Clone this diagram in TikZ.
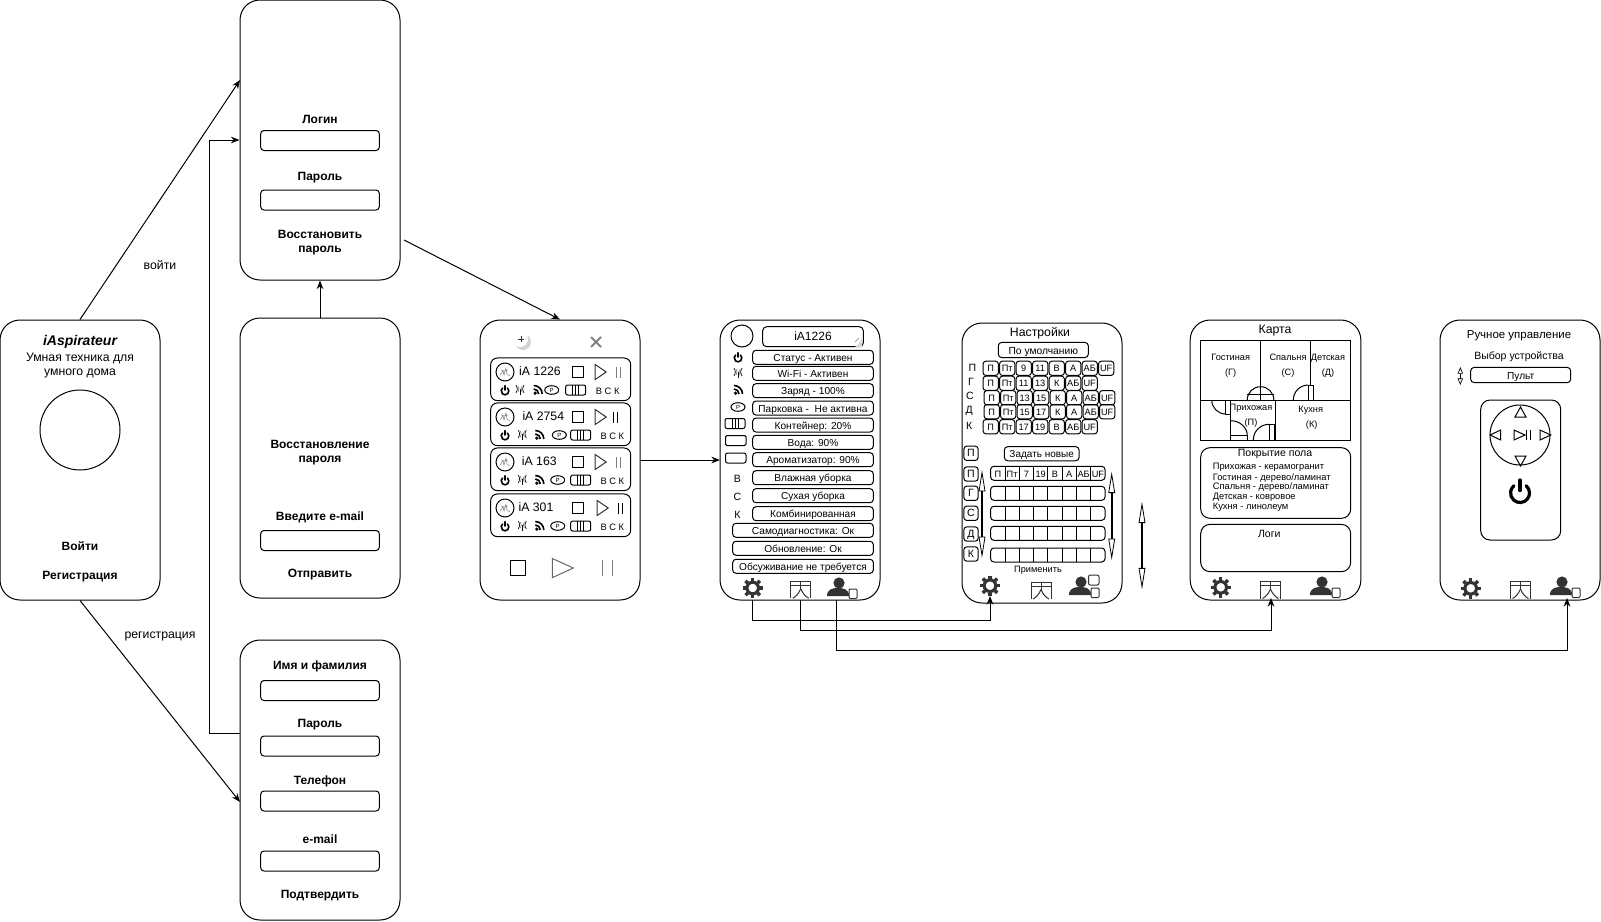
\documentclass[tikz,border=0pt]{standalone}
\usepackage{fontspec}
\setmainfont{Liberation Sans}
\usetikzlibrary{arrows.meta}
\definecolor{icondark}{HTML}{333333}

\tikzset{
    >={Stealth[length=6.5pt,width=5pt]},
    phone/.style={draw, rounded corners=15pt, minimum width=120pt, minimum height=210pt, inner sep=0pt},
    field/.style={draw, rounded corners=2.5pt, minimum width=89pt, minimum height=15pt, inner sep=0pt},
    pill/.style={draw, rounded corners=2.5pt, inner sep=0pt, minimum height=10.5pt, text height=6pt, text depth=0pt, font=\fontsize{7.6}{9}\selectfont},
    cell/.style={draw, rounded corners=2pt, inner sep=0pt, minimum width=11.4pt, minimum height=10.6pt, text height=5pt, text depth=0pt, font=\fontsize{6.9}{8}\selectfont},
    panel/.style={draw, rounded corners=7pt, inner sep=0pt},
    head/.style={font=\bfseries\fontsize{9}{10.5}\selectfont, align=center, inner sep=0pt, yshift=-1pt},
    plain/.style={font=\fontsize{9.2}{10.5}\selectfont, align=center, inner sep=0pt, yshift=-.8pt},
    small/.style={font=\fontsize{7.9}{9}\selectfont, align=center, inner sep=0pt, yshift=-.8pt},
    tiny/.style={font=\fontsize{6.9}{8}\selectfont, align=center, inner sep=0pt, yshift=-.8pt},
    bigarrow/.style={line width=1.2pt, {Triangle[open,length=16pt,width=5pt,line width=.6pt]}-{Triangle[open,length=16pt,width=5pt,line width=.6pt]}},
    pics/poweric/.style={code={
        \draw[line width=#1, line cap=round] (-50:3.8) arc (-50:230:3.8);
        \draw[line width=#1, line cap=round] (0,-5.2) -- (0,-1);
    }},
    pics/poweric/.default=1.2pt,
    pics/wifiic/.style={code={
        \draw[line width=.5pt] (0,-1) -- (0,5);
        \draw[gray, line width=.5pt] (-2,-4) .. controls (-.7,-1) .. (-2,2);
        \draw[gray, line width=.5pt] (2,-4) .. controls (.7,-1) .. (2,2);
        \draw[line width=.5pt] (-4,-5) .. controls (-2.2,-1) .. (-4,3);
        \draw[line width=.5pt] (4,-5) .. controls (2.2,-1) .. (4,3);
    }},
    pics/rssic/.style={code={
        \fill (-2.5,3.2) circle (1.8);
        \draw[line width=1.2pt] (-4,-1) arc (-90:0:5);
        \draw[line width=1.2pt] (-4,-4.5) arc (-90:0:8.5);
    }},
    pics/parkic/.style={code={
        \draw (0,0) ellipse (7 and 4.3);
    }},
    pics/battic/.style={code={
        \draw[rounded corners=1.5pt] (-10,-5) rectangle (10,5);
        \foreach \bx in {-3,0,3} \draw (\bx,-5) -- (\bx,5);
    }},
    pics/gearic/.style={code={
        \draw[icondark, line width=2.3pt] (0,0) circle (5.8);
        \foreach \ga in {0,45,...,315} \draw[icondark, line width=2.6pt] (\ga:7) -- (\ga:10.2);
    }},
    pics/mapic/.style={code={
        \draw[icondark] (-10,8.5) -- (-10,-8.5) -- (10,-8.5) -- (10,8.5);
        \draw[icondark] (-10,-4.5) -- (10,-4.5);
        \draw[icondark] (0,-8.5) -- (0,-1);
        \draw[icondark] (0,-1) .. controls (-2,4) and (-5,7) .. (-8,8.5);
        \draw[icondark] (0,-1) .. controls (2,4) and (5,7) .. (8,8.5);
    }},
    pics/userbody/.style={code={
        \fill[icondark] (1,-7) circle (5.6);
        \fill[icondark] (-11,6) .. controls (-11,-1) and (-5,-2) .. (0,-2) .. controls (5,-2) and (11,-1) .. (11,6) -- cycle;
        \draw[icondark, fill=white, rounded corners=.8pt] (11,-1) rectangle (19,8.5);
    }},
    pics/globeic/.style={code={
        \draw (0,0) circle (9);
        \draw[gray, line width=.4pt] (-5,3) -- (-2,-1) -- (-1,3) -- (1,-4) -- (2,2) -- (5,4);
        \draw[gray, line width=.4pt] (-4,-2) -- (-1,-1) -- (3,-2);
    }},
}

\begin{document}
\begin{tikzpicture}[x=.75pt, y=-.75pt, line width=.75pt]
    \useasboundingbox (0,0) rectangle (1601,921);

    % Phones
    \node[phone] (start) at (80,460) {};
    \node[phone] (login) at (320,140) {};
    \node[phone] (restore) at (320,458) {};
    \node[phone] (regst) at (320,780) {};
    \node[phone] (list) at (560,460) {};
    \node[phone] (dev) at (800,460) {};
    \node[phone] (sets) at (1042,463) {};
    \node[phone, minimum width=128pt] (plan) at (1275.5,460) {};
    \node[phone] (manual) at (1520,460) {};

    % Start screen
    \node[font=\bfseries\itshape\fontsize{10.5}{12}\selectfont, inner sep=0pt] (brand) at (80,342) {iAspirateur};
    \node[plain] (slogan) at (80,364.5) {Умная техника для\\умного дома};
    \node[draw, circle, minimum size=60pt, inner sep=0pt] (logo) at (80,430) {};
    \node[head] (enter) at (80,545) {Войти};
    \node[head] (signup) at (80,575) {Регистрация};

    % Login screen
    \node[head] (loginlab) at (320,118.5) {Логин};
    \node[field] (loginbox) at (320,140.5) {};
    \node[head] (passlab) at (320,176) {Пароль};
    \node[field] (passbox) at (320,200) {};
    \node[head] (forgot) at (320,241) {Восстановить\\пароль};

    % Restore screen
    \node[head] (restlab) at (320,451) {Восстановление\\пароля};
    \node[head] (maillab) at (320,516) {Введите e-mail};
    \node[field] (mailbox) at (320,540.5) {};
    \node[head] (sendlab) at (320,573) {Отправить};

    % Register screen
    \node[head] (namelab) at (320,665) {Имя и фамилия};
    \node[field] (namebox) at (320,690.5) {};
    \node[head] (pwdlab) at (320,723) {Пароль};
    \node[field] (pwdbox) at (320,746) {};
    \node[head] (tellab) at (320,780) {Телефон};
    \node[field] (telbox) at (320,801) {};
    \node[head] (emlab) at (320,838) {e-mail};
    \node[field] (embox) at (320,861) {};
    \node[head] (oklab) at (320,894) {Подтвердить};

    % Connectors
    \coordinate (loginA) at (240,80);
    \coordinate (regstA) at (240,802);
    \coordinate (regstB) at (240,733);
    \coordinate (loginB) at (404,240);
    \coordinate (listIn) at (640,460);
    \coordinate (devIn) at (720,460);
    \coordinate (gearOut) at (752,600);
    \coordinate (mapOut) at (800,600);
    \coordinate (userOut) at (836,600);
    \coordinate (gearIn) at (990,596);
    \coordinate (mapIn) at (1271,598);
    \coordinate (userIn) at (1567,598);
    \draw[->] (start.north) -- (loginA);
    \draw[->] (start.south) -- (regstA);
    \draw[->] (regstB) -- (209,733) |- (login.west);
    \draw[->] (restore.north) -- (login.south);
    \draw[->] (loginB) -- (list.north);
    \draw[->] (listIn) -- (devIn);
    \draw[->] (gearOut) -- (752,620) -| (gearIn);
    \draw[->] (mapOut) -- (800,630) -| (mapIn);
    \draw[->] (userOut) -- (836,650) -| (userIn);
    \node[plain] (golab) at (160,264) {войти};
    \node[plain] (reglab) at (160,635) {регистрация};

    % Device list
    \fill[gray!35] (523,342) circle (8);
    \fill[white] (520,339) circle (8);
    \draw[icondark, line width=.6pt] (518,339) -- (524,339) (521,336) -- (521,342);
    \draw[gray, line width=1.5pt] (591,337) -- (601,347) (591,347) -- (601,337);
    \foreach \n/\y/\lab/\lx/\tx/\pz/\pc/\wx/\rx/\kx/\bx/\cx in {
        1/358/iA 1226/540/600.7/618/gray/520/537.7/551.7/575.7/607.7,
        2/403/iA 2754/543.3/600.7/615.3/black/522.3/539.3/559.3/580.7/612.3,
        3/448/iA 163/539.3/600.7/618/gray/522.3/539.3/557.7/580.7/612.3,
        4/494/iA 301/536/602.7/620.3/black/522.3/539.3/557.7/580.7/612.3} {
        \node[draw, rounded corners=5pt, minimum width=105pt, minimum height=32pt, inner sep=0pt] (row\n) at (560.7,\y+21.3) {};
        \pic at (505,\y+14) {globeic};
        \node[plain] (name\n) at (\lx,\y+11.7) {\lab};
        \node[draw, minimum size=8.2pt, inner sep=0pt] (stop\n) at (578,\y+14) {};
        \draw[icondark] (\tx-5.5,\y+6.5) -- (\tx+5.5,\y+14) -- (\tx-5.5,\y+21.5) -- cycle;
        \draw[\pc] (\pz-2,\y+9) -- (\pz-2,\y+20) (\pz+2,\y+9) -- (\pz+2,\y+20);
        \pic at (505,\y+33) {poweric};
        \pic at (\wx,\y+32) {wifiic};
        \pic at (\rx,\y+32) {rssic};
        \pic at (\kx,\y+32) {parkic};
        \node[inner sep=0pt, font=\fontsize{4.5}{5}\selectfont] (park\n) at (\kx,\y+32) {P};
        \pic at (\bx,\y+32) {battic};
        \node[tiny, font=\fontsize{7}{8}\selectfont] (mode\n) at (\cx,\y+32.5) {В С К};
    }
    \node[draw, minimum size=11.5pt, inner sep=0pt] (stopall) at (518,568) {};
    \draw[gray!80!black] (552.3,558.5) -- (573.3,568) -- (552.3,577.7) -- cycle;
    \draw[gray] (602.3,560) -- (602.3,575.7) (612.3,560) -- (612.3,575.7);

    % Device screen
    \node[draw, circle, minimum size=16.5pt, inner sep=0pt] (devpic) at (742,336) {};
    \node[draw, rounded corners=3pt, minimum width=75.5pt, minimum height=15pt, inner sep=0pt, font=\fontsize{9}{10.5}\selectfont] (devsel) at (813,336.7) {iA1226};
    \fill[gray!30] (862,347) -- (855,347) .. controls (858,345) and (860,343) .. (862,338) -- cycle;
    \draw[gray, line width=.4pt] (855,342) -- (859,338);
    \foreach \n/\y/\lab in {1/357.3/Статус - Активен, 2/373.3/Wi-Fi - Активен, 3/390.7/Заряд - 100\%,
        4/408/Парковка -~ Не активна, 5/425/Контейнер: 20\%, 6/442.3/Вода: 90\%,
        7/459.7/Ароматизатор: 90\%, 8/477.7/Влажная уборка, 9/495.7/Сухая уборка, 10/513.7/Комбинированная} {
        \node[pill, minimum width=90.5pt] (stat\n) at (813,\y) {\lab};
    }
    \foreach \n/\y/\lab in {11/530.3/Самодиагностика: Ок, 12/548.3/Обновление: Ок, 13/566.3/Обсуживание не требуется} {
        \node[pill, minimum width=105.5pt] (stat\n) at (803,\y) {\lab};
    }
    \pic at (738,358) {poweric};
    \pic at (738,373) {wifiic};
    \pic at (738,390) {rssic};
    \pic at (738,407) {parkic};
    \node[inner sep=0pt, font=\fontsize{4.5}{5}\selectfont] (devpark) at (738,407) {P};
    \pic at (735,423.5) {battic};
    \draw[rounded corners=1pt] (725.5,435.5) rectangle (746,445.5);
    \draw[rounded corners=1.5pt] (725.5,453) rectangle (746,463);
    \node[small] (devb) at (737.5,477.7) {В};
    \node[small] (devc) at (737.5,495.7) {С};
    \node[small] (devk) at (737.5,513.7) {К};
    \pic at (752.7,588) {gearic};
    \pic at (800.7,589.7) {mapic};
    \pic at (838,590) {userbody};

    % Settings screen
    \node[plain] (settitle) at (1040,331.7) {Настройки};
    \node[pill, minimum width=67.5pt, minimum height=11.3pt, font=\fontsize{7.7}{10}\selectfont] (defbtn) at (1043.3,350) {По умолчанию};
    \foreach \n/\x/\y/\lab in {1/972.3/366.7/П, 2/971/380.7/Г, 3/970/395/С, 4/969.3/410/Д, 5/969.3/425/К} {
        \node[small] (dayrow\n) at (\x,\y) {\lab};
    }
    \foreach \r/\y/\dx/\ls in {1/368.3/0/{П,Пт,9,11,В,А,АБ,UF}, 2/383.3/0/{П,Пт,11,13,К,АБ,UF}, 3/397.7/1/{П,Пт,13,15,К,А,АБ,UF},
        4/411.7/1/{П,Пт,15,17,К,А,АБ,UF}, 5/426.7/0/{П,Пт,17,19,В,АБ,UF}} {
        \foreach \c [count=\i from 0] in \ls {
            \node[cell] (def\r-\i) at (990.7+\i*16.5+\dx,\y) {\c};
        }
    }
    \node[pill, minimum width=56pt, minimum height=10.6pt, font=\fontsize{7.5}{10}\selectfont] (newbtn) at (1041.7,453.7) {Задать новые};
    \foreach \n/\y/\lab in {1/453.3/П, 2/474/П, 3/493.3/Г, 4/513.3/С, 5/534/Д, 6/554/К} {
        \node[cell, minimum width=10.6pt, font=\fontsize{7.9}{9}\selectfont] (day\n) at (971,\y) {\lab};
    }
    \foreach \n/\y in {1/473.3, 2/493.3, 3/513.3, 4/533.3, 5/555} {
        \node[draw, rounded corners=2.5pt, minimum width=85.8pt, minimum height=10.5pt, inner sep=0pt] (grid\n) at (1047.8,\y) {};
        \foreach \i in {1,...,7} \draw (990.7+\i*14.3,\y-7) -- (990.7+\i*14.3,\y+7);
    }
    \foreach \c [count=\i from 0] in {П,Пт,7,19,В,А,АБ,UF} {
        \node[tiny] (time\i) at (997.8+\i*14.3,473.3) {\c};
    }
    \draw[bigarrow] (982,470) -- (982,558);
    \draw[bigarrow] (1111.7,471.7) -- (1111.7,560);
    \draw[bigarrow] (1142,501.7) -- (1142,589.3);
    \node[tiny] (applylab) at (1038,569) {Применить};
    \pic at (990,585.7) {gearic};
    \pic at (1041,590.5) {mapic};
    \pic at (1080,589) {userbody};
    \draw[icondark, fill=white, rounded corners=1.5pt] (1088.5,575) rectangle (1099,585);

    % Map screen
    \node[plain] (maptitle) at (1275,329.3) {Карта};
    \draw (1200.7,340.7) rectangle (1350.7,440);
    \draw (1200.7,400) -- (1350.7,400);
    \draw (1260.5,340.7) -- (1260.5,386.7);
    \draw (1310.3,340.7) -- (1310.3,385);
    \draw (1230.7,400) -- (1230.7,440);
    \draw (1275.7,400) -- (1275.7,440);
    % Doors
    \draw (1247.2,400) arc (180:360:13.3);
    \draw (1247.2,394) -- (1273.8,394) (1260.5,386.7) -- (1260.5,400);
    \draw (1293.3,400) arc (180:270:15);
    \draw (1308.3,385) rectangle (1313.3,400);
    \draw (1211.7,400) arc (180:90:14);
    \draw (1225.7,400) rectangle (1230.7,414.3);
    \draw (1230.7,420.7) arc (-90:0:16.6 and 15);
    \draw (1230.7,435.5) rectangle (1247.3,440);
    \draw (1253.3,440) arc (180:270:15.7);
    \draw (1269,424.3) rectangle (1274,440);
    \foreach \n/\x/\y/\lab in {1/1230.7/356.7/Гостиная, 2/1230.7/372.3/(Г), 3/1288/356.7/Спальня, 4/1288/372.3/(С),
        5/1328/356.7/Детская, 6/1328/372.3/(Д), 7/1251/407.3/Прихожая, 8/1251/422.3/(П), 9/1310.7/409/Кухня, 10/1311.7/424/(К)} {
        \node[tiny] (room\n) at (\x,\y) {\lab};
    }
    \node[panel, minimum width=112.5pt, minimum height=53pt] (floor) at (1275.7,483) {};
    \node[small] (floortitle) at (1275,453.3) {Покрытие пола};
    \foreach \n/\y/\lab in {1/466/Прихожая - керамогранит, 2/476.7/{Гостиная - дерево/ламинат}, 3/485.7/{Спальня - дерево/ламинат},
        4/496/Детская - ковровое, 5/506/Кухня - линолеум} {
        \node[tiny, anchor=west, font=\fontsize{7}{8}\selectfont] (floor\n) at (1212.3,\y) {\lab};
    }
    \node[panel, minimum width=112.5pt, minimum height=35.5pt] (logs) at (1275.7,548) {};
    \node[small] (logstitle) at (1269.3,533.3) {Логи};
    \pic at (1220.7,587.3) {gearic};
    \pic at (1270.5,590) {mapic};
    \pic at (1321,589) {userbody};

    % Manual screen
    \node[small, font=\fontsize{8.6}{10}\selectfont] (mantitle) at (1519,334.3) {Ручное управление};
    \node[small] (pick) at (1519,356) {Выбор устройства};
    \node[pill, minimum width=75pt, minimum height=11.3pt] (picker) at (1520.7,375) {Пульт};
    \draw[line width=.9pt, {Triangle[open,length=5pt,width=4pt,line width=.5pt]}-{Triangle[open,length=5pt,width=4pt,line width=.5pt]}] (1460.3,367) -- (1460.3,385);
    \node[panel, minimum width=60pt, minimum height=105pt] (remote) at (1520.7,470) {};
    \node[draw, circle, minimum size=45pt, inner sep=0pt] (wheel) at (1520,435) {};
    \draw (1515,417) -- (1520.5,407) -- (1526,417) -- cycle;
    \draw (1515,456) -- (1520.5,466) -- (1526,456) -- cycle;
    \draw (1500.7,430) -- (1490,435) -- (1500.7,440) -- cycle;
    \draw (1540,430) -- (1550.7,435) -- (1540,440) -- cycle;
    \draw (1514,430) -- (1525,435) -- (1514,440) -- cycle;
    \draw (1526.5,430) -- (1526.5,440) (1530,430) -- (1530,440);
    \pic[scale=2.5] at (1520,493) {poweric=2.4pt};
    \pic at (1470.7,588.3) {gearic};
    \pic at (1520.5,590) {mapic};
    \pic at (1561,589) {userbody};
\end{tikzpicture}
\end{document}
